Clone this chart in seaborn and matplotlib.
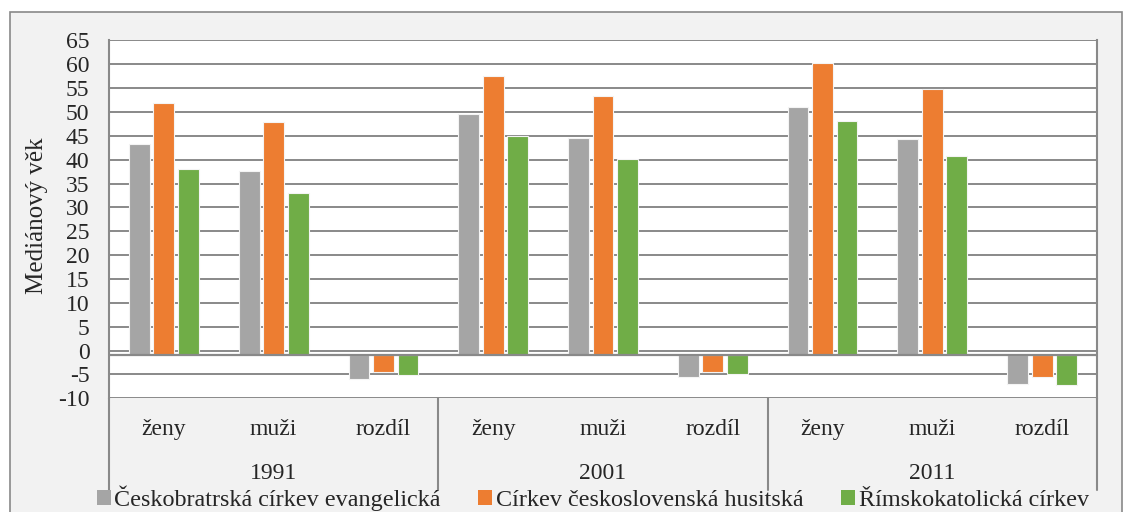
import pandas as pd
import matplotlib.pyplot as plt
import seaborn as sns
from matplotlib.patches import Rectangle, Patch

# data
years = ['1991', '2001', '2011']
groups = ['ženy', 'muži', 'rozdíl']
churches = ['Českobratrská církev evangelická', 'Církev československá husitská', 'Římskokatolická církev']

ceb = [43.3, 37.6, -5.9, 49.6, 44.5, -5.5, 51.1, 44.4, -6.9]
ccsh = [51.9, 47.9, -4.4, 57.6, 53.4, -4.4, 60.2, 54.7, -5.5]
rkc = [38.1, 33.0, -5.1, 45.0, 40.1, -4.9, 48.1, 40.8, -7.2]

colors = ['#a5a5a5', '#ed7d31', '#70ad47']
base = -1  # horizontal axis crosses at -1 in the original

keys = [f'{y} {g}' for y in years for g in groups]
rows = []
for church, vals in zip(churches, [ceb, ccsh, rkc]):
    for k, v in zip(keys, vals):
        rows.append({'kat': k, 'cirkev': church, 'vek': v, 'vyska': v - base})
df = pd.DataFrame(rows)

sns.set_style('white')
plt.rcParams['font.family'] = ['Liberation Serif', 'DejaVu Serif']
plt.rcParams['axes.unicode_minus'] = False

fig = plt.figure(figsize=(11.29, 5.12), dpi=100, facecolor='white')
fig.patches.append(Rectangle((10 / 1129, -0.05), 1112 / 1129, 1.05 - 12 / 512,
                             transform=fig.transFigure, facecolor='#f2f2f2',
                             edgecolor='#898989', linewidth=1.2, zorder=-10))
ax = fig.add_axes([109 / 1129, (512 - 398.3) / 512, 988 / 1129, 358 / 512])
ax.set_facecolor('white')

sns.barplot(data=df, x='kat', y='vyska', hue='cirkev', order=keys, hue_order=churches,
            palette=colors, width=0.67, gap=0.15, bottom=base, edgecolor='#f4f4f4',
            linewidth=0.8, saturation=1, legend=False, ax=ax, zorder=3)

grid_c = '#898989'
ax.set_ylim(-10, 65)
ax.set_yticks(range(-10, 66, 5))
ax.set_xlim(-0.5, len(keys) - 0.5)
for t in range(-10, 66, 5):
    ax.axhline(t, color=grid_c, lw=1.4, zorder=1)
ax.axhline(base, color=grid_c, lw=1.6, zorder=4)

for s in ['left', 'right']:
    ax.spines[s].set_color(grid_c)
    ax.spines[s].set_linewidth(1.5)
for s in ['top', 'bottom']:
    ax.spines[s].set_visible(False)

ax.tick_params(axis='y', length=0, pad=14, labelsize=17)
ax.set_xticks(range(len(keys)))
ax.set_xticklabels([g for y in years for g in groups])
ax.tick_params(axis='x', length=0, pad=15, labelsize=17)

# group separators and year labels below the axis
xt = ax.get_xaxis_transform()
for i in range(len(years) + 1):
    ax.plot([i * 3 - 0.5] * 2, [0, -0.255], color=grid_c, lw=1.5, transform=xt, clip_on=False)
for i, y in enumerate(years):
    ax.text(i * 3 + 1, -0.21, y, transform=xt, ha='center', va='center', fontsize=17)

ax.set_xlabel('')
ax.set_ylabel('Mediánový věk', fontsize=18)
ax.yaxis.set_label_coords(-0.0617, 0.509)

handles = [Patch(facecolor=c, edgecolor='none') for c in colors]
fig.legend(handles, churches, loc='center', bbox_to_anchor=(0.525, 0.027), ncol=3,
           frameon=False, fontsize=17.4, handlelength=0.58, handleheight=0.58,
           handletextpad=0.15, columnspacing=1.55)

plt.savefig('out.png', dpi=100, facecolor='white')
